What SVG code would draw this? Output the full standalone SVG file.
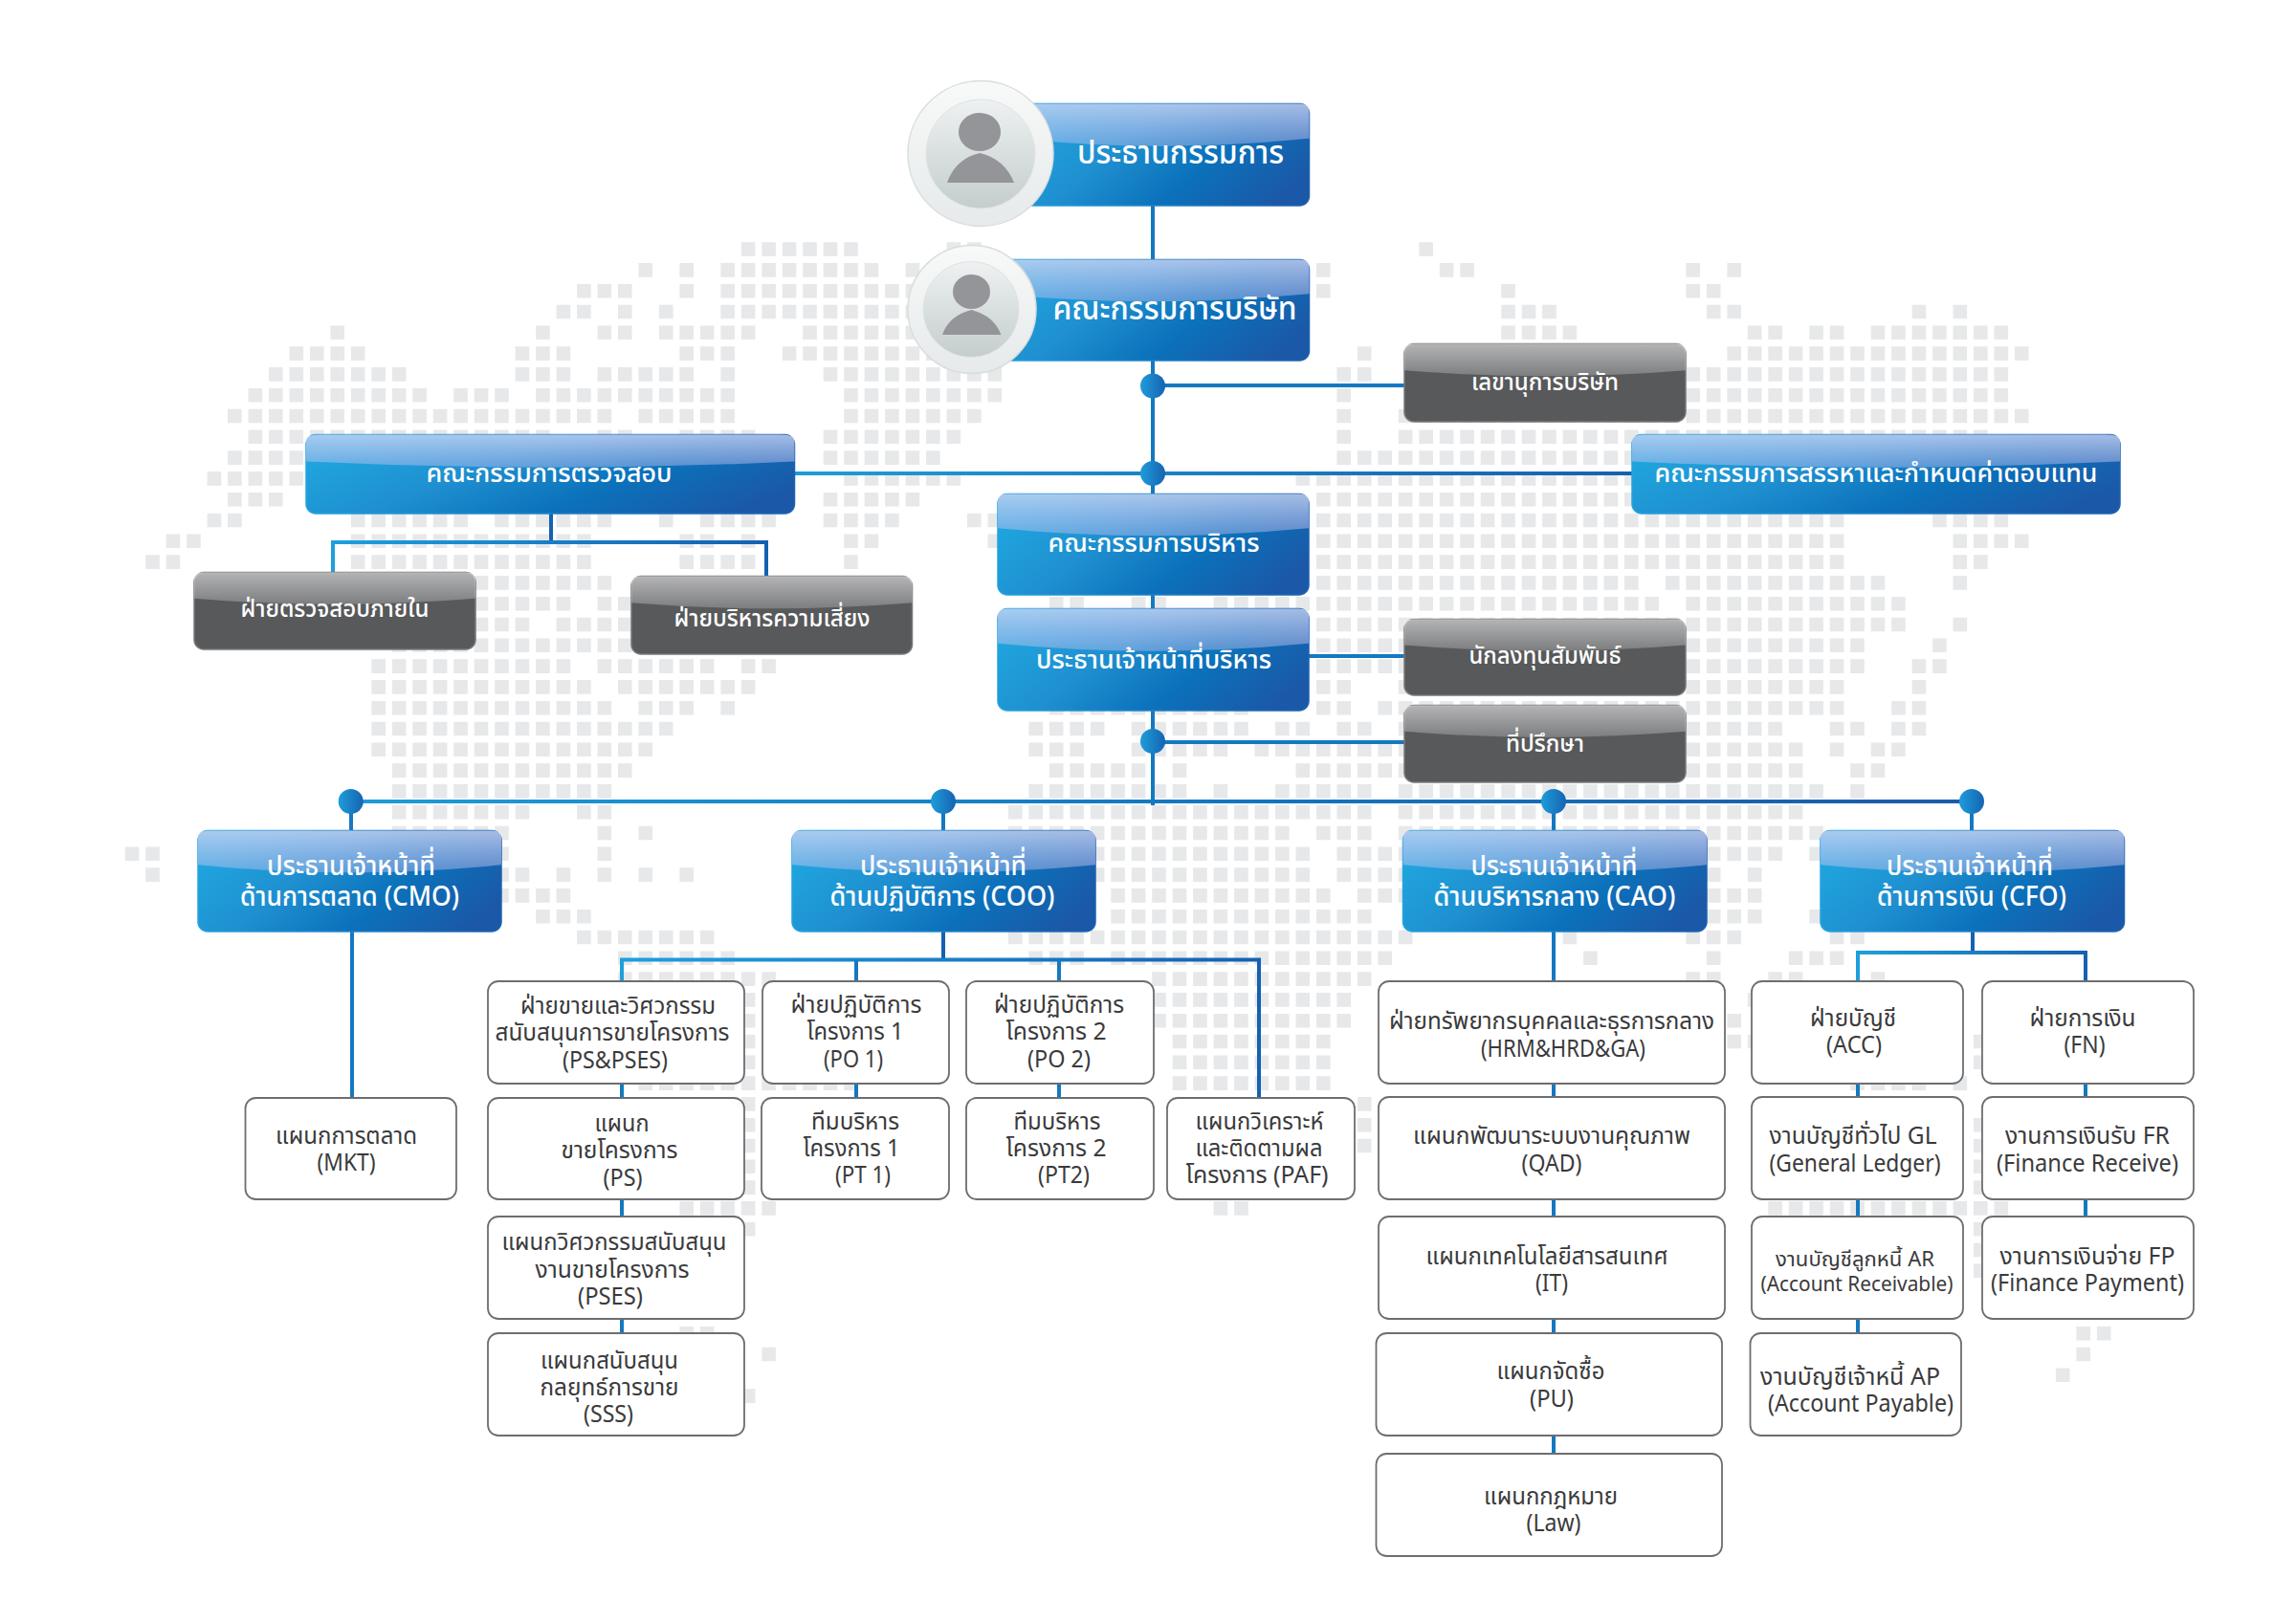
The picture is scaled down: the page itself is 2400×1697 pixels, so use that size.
<svg xmlns="http://www.w3.org/2000/svg" width="2400" height="1697" viewBox="0 0 2400 1697">
<style>
text{font-family:"Noto Sans Thai","Noto Sans","Liberation Sans",sans-serif;text-anchor:middle}
.w{fill:#fff;font-size:29px;font-weight:500;transform:translateY(2px)}
.d{fill:#3a3a3c;font-size:25px;font-weight:400;transform:translateY(1.5px)}
.blue{fill:url(#bg);stroke:url(#bs);stroke-width:1.5}
.grey{fill:#58595b;stroke:#77787b;stroke-width:1.5}
.box{fill:#fff;stroke:#6d6e71;stroke-width:1.8}
.cn{fill:none;stroke:#1479c1;stroke-width:4}
.j{fill:url(#jg)}
</style>
<defs>
<linearGradient id="bg" x1="0" y1="0.3" x2="1" y2="0.7"><stop offset="0" stop-color="#1fa6df"/><stop offset=".35" stop-color="#1f8fd0"/><stop offset=".65" stop-color="#0b72bb"/><stop offset="1" stop-color="#1b58a7"/></linearGradient>
<linearGradient id="bs" x1="0" y1="0" x2="1" y2="0"><stop offset="0" stop-color="#22a3de"/><stop offset="1" stop-color="#1b62b0"/></linearGradient>
<linearGradient id="gl" x1="0" y1="0" x2="0" y2="1"><stop offset="0" stop-color="#d8d8f5" stop-opacity=".75"/><stop offset="1" stop-color="#c0c0f0" stop-opacity=".42"/></linearGradient>
<linearGradient id="gg" x1="0" y1="0" x2="0" y2="1"><stop offset="0" stop-color="#fff" stop-opacity=".55"/><stop offset="1" stop-color="#fff" stop-opacity=".22"/></linearGradient>
<linearGradient id="jg" x1="0" y1="0" x2="1" y2="0"><stop offset="0" stop-color="#1e9cd9"/><stop offset="1" stop-color="#1664b2"/></linearGradient>
<linearGradient id="br" x1="0" y1="0" x2="1" y2="0"><stop offset="0" stop-color="#1e9fdb"/><stop offset="1" stop-color="#1561b1"/></linearGradient>
<linearGradient id="h1" gradientUnits="userSpaceOnUse" x1="367" y1="0" x2="2061" y2="0"><stop offset="0" stop-color="#1e9cd9"/><stop offset=".5" stop-color="#1479c1"/><stop offset="1" stop-color="#1a5cab"/></linearGradient>
<linearGradient id="h2" gradientUnits="userSpaceOnUse" x1="831" y1="0" x2="1706" y2="0"><stop offset="0" stop-color="#1e9cd9"/><stop offset="1" stop-color="#1661b0"/></linearGradient>
<linearGradient id="c1" x1="0" y1="0" x2="0" y2="1"><stop offset="0" stop-color="#f8f9f9"/><stop offset="1" stop-color="#e6eaea"/></linearGradient>
<linearGradient id="c2" x1="0" y1="0" x2="0" y2="1"><stop offset="0" stop-color="#eef1f1"/><stop offset="1" stop-color="#c4cdcd"/></linearGradient>
<path id="gloss" d="M0 .34V.07Q0 0 .03 0H.97Q1 0 1 .07V.34Q.5 .49 0 .34Z"/>
</defs>
<rect width="2400" height="1697" fill="#fff"/>
<g id="map" transform="translate(152.2 260.6) scale(21.47 21.8)" fill="none" stroke="#e7e8ea" stroke-width=".67" stroke-dasharray=".68 .32">
<path d="M29 0H34.68M39 0H40.68M62 0H62.68
M24 1H24.68M26 1H26.68M28 1H35.68M37 1H38.68M57 1H57.68M63 1H64.68M75 1H75.68M77 1H77.68
M21 2H23.68M26 2H26.68M28 2H37.68M57 2H57.68M66 2H66.68M75 2H76.68
M20 3H21.68M23 3H23.68M25 3H25.68M28 3H37.68M66 3H68.68M76 3H77.68M86 3H86.68M88 3H88.68
M9 4H9.68M19 4H19.68M22 4H23.68M25 4H29.68M32 4H37.68M66 4H69.68M78 4H79.68M81 4H82.68M84 4H90.68
M7 5H10.68M18 5H20.68M26 5H28.68M31 5H38.68M59 5H59.68M77 5H91.68
M6 6H12.68M18 6H20.68M22 6H26.68M28 6H28.68M33 6H41.68M58 6H59.68M62 6H90.68
M5 7H13.68M15 7H17.68M19 7H28.68M34 7H41.68M58 7H58.68M62 7H90.68
M4 8H22.68M24 8H28.68M34 8H40.68M58 8H58.68M61 8H91.68
M5 9H19.68M22 9H23.68M26 9H29.68M33 9H39.68M58 9H58.68M61 9H89.68
M4 10H19.68M33 10H38.68M58 10H72.68
M3 11H7.68M34 11H39.68M56 11H72.68
M4 12H6.68M33 12H37.68M57 12H72.68
M3 13H4.68M10 13H15.68M17 13H22.68M25 13H25.68M27 13H30.68M33 13H36.68M40 13H41.68M57 13H82.68M87 13H90.68
M1 14H2.68M10 14H21.68M26 14H27.68M29 14H29.68M34 14H35.68M41 14H41.68M57 14H82.68M88 14H91.68
M0 15H1.68M10 15H21.68M26 15H29.68M34 15H34.68M57 15H82.68M88 15H89.68
M16 16H22.68M57 16H72.68M74 16H84.68M88 16H88.68
M16 17H20.68M22 17H23.68M44 17H45.68M48 17H49.68M52 17H73.68M75 17H85.68
M16 18H18.68M20 18H23.68M57 18H85.68M88 18H88.68
M12 19H23.68M57 19H83.68M87 19H87.68
M11 20H20.68M22 20H27.68M29 20H30.68M57 20H83.68M86 20H87.68
M11 21H21.68M23 21H29.68M57 21H58.68M61 21H82.68M86 21H86.68
M11 22H22.68M24 22H26.68M28 22H28.68M44 22H53.68M57 22H58.68M60 22H82.68M85 22H86.68
M11 23H25.68M43 23H46.68M48 23H53.68M55 23H56.68M58 23H59.68M61 23H79.68M82 23H83.68M85 23H86.68
M11 24H24.68M43 24H45.68M48 24H52.68M54 24H80.68M82 24H82.68M84 24H85.68
M12 25H23.68M44 25H48.68M50 25H50.68M56 25H80.68M83 25H84.68
M12 26H22.68M43 26H50.68M52 26H52.68M55 26H59.68M61 26H81.68M83 26H83.68
M12 27H18.68M21 27H22.68M42 27H59.68M61 27H80.68
M12 28H17.68M22 28H22.68M24 28H24.68M42 28H55.68M57 28H59.68M61 28H81.68
M-1 29H0.68M12 29H17.68M22 29H22.68M46 29H56.68M58 29H61.68M76 29H79.68M81 29H81.68
M0 30H0.68M17 30H18.68M20 30H20.68M22 30H22.68M24 30H24.68M26 30H26.68M46 30H56.68M58 30H61.68M76 30H76.68M78 30H78.68
M17 31H20.68M47 31H57.68M59 31H61.68M76 31H78.68
M19 32H21.68M47 32H59.68M76 32H78.68M81 32H81.68
M21 33H27.68M42 33H61.68M69 33H69.68M75 33H77.68M82 33H83.68
M23 34H28.68M43 34H45.68M47 34H60.68M70 34H70.68M76 34H76.68M80 34H82.68
M23 35H30.68M49 35H59.68M75 35H76.68M79 35H80.68M84 35H84.68
M29 36H29.68M49 36H58.68M78 36H78.68
M29 37H29.68M49 37H58.68M77 37H77.68
M29 38H29.68M50 38H57.68M77 38H78.68M89 38H89.68
M29 39H29.68M50 39H57.68M89 39H89.68
M24 40H34.68M50 40H57.68M83 40H86.68M88 40H88.68
M29 41H29.68M59 41H59.68
M29 42H29.68M59 42H59.68M89 42H89.68
M29 43H29.68M59 43H59.68M89 43H89.68
M29 44H29.68M89 44H89.68
M29 45H29.68M89 45H89.68
M26 46H30.68M52 46H53.68M79 46H90.68
M29 47H29.68M89 47H89.68
M89 48H89.68
M89 49H89.68
M26 52H27.68M94 52H95.68
M30 53H30.68M94 53H94.68
M93 54H93.68
M29 55H29.68"/>
</g>
<g id="connectors">
<path class="cn" d="M1205 215V271M1205 377V516M1205 622V636M1205 743V842"/>
<path class="cn" d="M1205 403H1468"/>
<path class="cn" style="stroke:url(#h2)" d="M831 495H1706"/>
<path class="cn" d="M1368 686H1468M1205 776H1468"/>
<path class="cn" style="stroke:url(#h1)" d="M367 838H2061"/>
<path class="cn" d="M367 838V868M986 838V868M1624 838V868M2061 838V868"/>
<path class="cn" style="stroke:#1562b0" d="M576 537V567"/>
<path class="cn" style="stroke:url(#br)" d="M348 598V567H801V602"/>
<path class="cn" d="M368 974V1148"/>
<path class="cn" style="stroke:#1562b0" d="M986 974V1003"/>
<path class="cn" style="stroke:url(#br)" d="M650 1026V1003.5H1316V1148"/>
<path class="cn" d="M895 1003.5V1026M1107 1003.5V1026"/>
<path class="cn" d="M650 1133V1148M650 1254V1272M650 1379V1394M895 1133V1148M1107 1133V1148"/>
<path class="cn" d="M1624 974V1026M1624 1133V1147M1624 1254V1272M1624 1379V1394M1624 1501V1520"/>
<path class="cn" style="stroke:#1562b0" d="M2062 974V996"/>
<path class="cn" style="stroke:url(#br)" d="M1942 1026V996H2180V1026"/>
<path class="cn" d="M1942 1133V1147M1942 1254V1272M1942 1379V1394M2180 1133V1147M2180 1254V1272"/>
<ellipse class="j" cx="1205" cy="403.5" rx="13" ry="13"/>
<ellipse class="j" cx="1205" cy="495" rx="13" ry="13"/>
<ellipse class="j" cx="1205" cy="775" rx="13" ry="13"/>
<ellipse class="j" cx="366.7" cy="838" rx="13" ry="13"/>
<ellipse class="j" cx="986" cy="838" rx="13" ry="13"/>
<ellipse class="j" cx="1624" cy="838" rx="13" ry="13"/>
<ellipse class="j" cx="2061" cy="838" rx="13" ry="13"/>
</g>
<g id="chairman">
<rect class="blue" x="1060" y="108.5" width="308.5" height="106.5" rx="10"/>
<use href="#gloss" fill="url(#gl)" transform="translate(1060 108.5) scale(308.5 106.5)"/>
<circle cx="1025" cy="160.5" r="76" fill="url(#c1)" stroke="#d9dddd" stroke-width="1.5"/>
<circle cx="1025" cy="161" r="57" fill="url(#c2)" stroke="#dfe3e3"/>
<ellipse cx="1024" cy="138" rx="22" ry="20" fill="#939598"/>
<path d="M990 191Q999 166 1024 160Q1050 166 1060 191Z" fill="#939598"/>
<text class="w" x="1234" y="169" style="font-size:33px" textLength="216" lengthAdjust="spacingAndGlyphs">ประธานกรรมการ</text>
</g>
<g id="board">
<rect class="blue" x="1040" y="271.5" width="328.5" height="105.5" rx="10"/>
<use href="#gloss" fill="url(#gl)" transform="translate(1040 271.5) scale(328.5 105.5)"/>
<circle cx="1016" cy="323.5" r="67" fill="url(#c1)" stroke="#d9dddd" stroke-width="1.5"/>
<circle cx="1015" cy="323.5" r="50" fill="url(#c2)" stroke="#dfe3e3"/>
<ellipse cx="1015.5" cy="305" rx="19.5" ry="18" fill="#939598"/>
<path d="M985 350Q992 330 1015.5 324Q1039 330 1046.5 350Z" fill="#939598"/>
<text class="w" x="1228" y="332" style="font-size:33px" textLength="255" lengthAdjust="spacingAndGlyphs">คณะกรรมการบริษัท</text>
</g>
<g id="secretary">
<rect class="grey" x="1468" y="359.5" width="294" height="81.5" rx="10"/>
<use href="#gloss" fill="url(#gg)" transform="translate(1468 359.5) scale(294 81.5)"/>
<text class="w" x="1615" y="406" style="font-size:25px" textLength="154" lengthAdjust="spacingAndGlyphs">เลขานุการบริษัท</text>
</g>
<g id="audit-committee">
<rect class="blue" x="320" y="454.5" width="510.5" height="82.5" rx="10"/>
<use href="#gloss" fill="url(#gl)" transform="translate(320 454.5) scale(510.5 82.5)"/>
<text class="w" x="574" y="502" style="font-size:26px" textLength="257" lengthAdjust="spacingAndGlyphs">คณะกรรมการตรวจสอบ</text>
</g>
<g id="nomination-committee">
<rect class="blue" x="1706" y="454.5" width="510" height="82.5" rx="10"/>
<use href="#gloss" fill="url(#gl)" transform="translate(1706 454.5) scale(510 82.5)"/>
<text class="w" x="1961" y="502" style="font-size:26px" textLength="463" lengthAdjust="spacingAndGlyphs">คณะกรรมการสรรหาและกำหนดค่าตอบแทน</text>
</g>
<g id="internal-audit">
<rect class="grey" x="203" y="598.5" width="294" height="80.5" rx="10"/>
<use href="#gloss" fill="url(#gg)" transform="translate(203 598.5) scale(294 80.5)"/>
<text class="w" x="350" y="643" style="font-size:25px" textLength="197" lengthAdjust="spacingAndGlyphs">ฝ่ายตรวจสอบภายใน</text>
</g>
<g id="risk">
<rect class="grey" x="660" y="602.5" width="293.5" height="81.5" rx="10"/>
<use href="#gloss" fill="url(#gg)" transform="translate(660 602.5) scale(293.5 81.5)"/>
<text class="w" x="807" y="653" style="font-size:25px" textLength="205" lengthAdjust="spacingAndGlyphs">ฝ่ายบริหารความเสี่ยง</text>
</g>
<g id="executive-committee">
<rect class="blue" x="1043" y="516.5" width="325" height="105.5" rx="10"/>
<use href="#gloss" fill="url(#gl)" transform="translate(1043 516.5) scale(325 105.5)"/>
<text class="w" x="1206" y="575" style="font-size:27px" textLength="221" lengthAdjust="spacingAndGlyphs">คณะกรรมการบริหาร</text>
</g>
<g id="ceo">
<rect class="blue" x="1043" y="636.5" width="325" height="106.5" rx="10"/>
<use href="#gloss" fill="url(#gl)" transform="translate(1043 636.5) scale(325 106.5)"/>
<text class="w" x="1206" y="697" style="font-size:27px" textLength="246" lengthAdjust="spacingAndGlyphs">ประธานเจ้าหน้าที่บริหาร</text>
</g>
<g id="investor-relations">
<rect class="grey" x="1468" y="647.5" width="294" height="79.5" rx="10"/>
<use href="#gloss" fill="url(#gg)" transform="translate(1468 647.5) scale(294 79.5)"/>
<text class="w" x="1615" y="692" style="font-size:25px" textLength="159" lengthAdjust="spacingAndGlyphs">นักลงทุนสัมพันธ์</text>
</g>
<g id="advisor">
<rect class="grey" x="1468" y="737.5" width="294" height="80.5" rx="10"/>
<use href="#gloss" fill="url(#gg)" transform="translate(1468 737.5) scale(294 80.5)"/>
<text class="w" x="1615" y="784" style="font-size:25px" textLength="82" lengthAdjust="spacingAndGlyphs">ที่ปรึกษา</text>
</g>
<g id="cmo">
<rect class="blue" x="207" y="868.5" width="317" height="105.5" rx="10"/>
<use href="#gloss" fill="url(#gl)" transform="translate(207 868.5) scale(317 105.5)"/>
<text class="w" x="367" y="913" textLength="176" lengthAdjust="spacingAndGlyphs">ประธานเจ้าหน้าที่</text>
<text class="w" x="365.5" y="945" textLength="229" lengthAdjust="spacingAndGlyphs">ด้านการตลาด (CMO)</text>
</g>
<g id="coo">
<rect class="blue" x="828" y="868.5" width="317" height="105.5" rx="10"/>
<use href="#gloss" fill="url(#gl)" transform="translate(828 868.5) scale(317 105.5)"/>
<text class="w" x="986" y="913" textLength="174" lengthAdjust="spacingAndGlyphs">ประธานเจ้าหน้าที่</text>
<text class="w" x="985" y="945" textLength="235" lengthAdjust="spacingAndGlyphs">ด้านปฏิบัติการ (COO)</text>
</g>
<g id="cao">
<rect class="blue" x="1466.5" y="868.5" width="317.5" height="105.5" rx="10"/>
<use href="#gloss" fill="url(#gl)" transform="translate(1466.5 868.5) scale(317.5 105.5)"/>
<text class="w" x="1624.5" y="913" textLength="174" lengthAdjust="spacingAndGlyphs">ประธานเจ้าหน้าที่</text>
<text class="w" x="1625" y="945" textLength="253" lengthAdjust="spacingAndGlyphs">ด้านบริหารกลาง (CAO)</text>
</g>
<g id="cfo">
<rect class="blue" x="1903" y="868.5" width="317.5" height="105.5" rx="10"/>
<use href="#gloss" fill="url(#gl)" transform="translate(1903 868.5) scale(317.5 105.5)"/>
<text class="w" x="2059" y="913" textLength="174" lengthAdjust="spacingAndGlyphs">ประธานเจ้าหน้าที่</text>
<text class="w" x="2061" y="945" textLength="198" lengthAdjust="spacingAndGlyphs">ด้านการเงิน (CFO)</text>
</g>
<g id="mkt"><rect class="box" x="256.5" y="1148" width="220.5" height="106" rx="11"/>
<text class="d" x="362" y="1194" textLength="148" lengthAdjust="spacingAndGlyphs">แผนกการตลาด</text>
<text class="d" x="362" y="1222" textLength="61" lengthAdjust="spacingAndGlyphs">(MKT)</text></g>
<g id="ps-pses"><rect class="box" x="510" y="1026" width="268" height="107" rx="11"/>
<text class="d" x="646" y="1058" textLength="204" lengthAdjust="spacingAndGlyphs">ฝ่ายขายและวิศวกรรม</text>
<text class="d" x="640" y="1086.5" textLength="245" lengthAdjust="spacingAndGlyphs">สนับสนุนการขายโครงการ</text>
<text class="d" x="643" y="1115" textLength="110" lengthAdjust="spacingAndGlyphs">(PS&amp;PSES)</text></g>
<g id="ps"><rect class="box" x="510" y="1148" width="268" height="106" rx="11"/>
<text class="d" x="650" y="1181" textLength="57" lengthAdjust="spacingAndGlyphs">แผนก</text>
<text class="d" x="647.5" y="1209" textLength="122" lengthAdjust="spacingAndGlyphs">ขายโครงการ</text>
<text class="d" x="651" y="1238" textLength="41" lengthAdjust="spacingAndGlyphs">(PS)</text></g>
<g id="pses"><rect class="box" x="510" y="1272" width="268" height="107" rx="11"/>
<text class="d" x="642" y="1305" textLength="235" lengthAdjust="spacingAndGlyphs">แผนกวิศวกรรมสนับสนุน</text>
<text class="d" x="640" y="1334" textLength="161" lengthAdjust="spacingAndGlyphs">งานขายโครงการ</text>
<text class="d" x="638" y="1362" textLength="68" lengthAdjust="spacingAndGlyphs">(PSES)</text></g>
<g id="sss"><rect class="box" x="510" y="1394" width="268" height="107" rx="11"/>
<text class="d" x="637" y="1429" textLength="144" lengthAdjust="spacingAndGlyphs">แผนกสนับสนุน</text>
<text class="d" x="637" y="1457" textLength="145" lengthAdjust="spacingAndGlyphs">กลยุทธ์การขาย</text>
<text class="d" x="636" y="1485" textLength="52" lengthAdjust="spacingAndGlyphs">(SSS)</text></g>
<g id="po1"><rect class="box" x="797" y="1026" width="195" height="107" rx="11"/>
<text class="d" x="895" y="1057" textLength="137" lengthAdjust="spacingAndGlyphs">ฝ่ายปฏิบัติการ</text>
<text class="d" x="894" y="1085" textLength="101" lengthAdjust="spacingAndGlyphs">โครงการ 1</text>
<text class="d" x="892" y="1114" textLength="62" lengthAdjust="spacingAndGlyphs">(PO 1)</text></g>
<g id="po2"><rect class="box" x="1010" y="1026" width="196" height="107" rx="11"/>
<text class="d" x="1107" y="1057" textLength="136" lengthAdjust="spacingAndGlyphs">ฝ่ายปฏิบัติการ</text>
<text class="d" x="1104" y="1085" textLength="105" lengthAdjust="spacingAndGlyphs">โครงการ 2</text>
<text class="d" x="1107" y="1114" textLength="66" lengthAdjust="spacingAndGlyphs">(PO 2)</text></g>
<g id="pt1"><rect class="box" x="796" y="1148" width="196" height="106" rx="11"/>
<text class="d" x="894" y="1179" textLength="92" lengthAdjust="spacingAndGlyphs">ทีมบริหาร</text>
<text class="d" x="890" y="1207" textLength="101" lengthAdjust="spacingAndGlyphs">โครงการ 1</text>
<text class="d" x="902" y="1235" textLength="58" lengthAdjust="spacingAndGlyphs">(PT 1)</text></g>
<g id="pt2"><rect class="box" x="1010" y="1148" width="196" height="106" rx="11"/>
<text class="d" x="1105" y="1179" textLength="91" lengthAdjust="spacingAndGlyphs">ทีมบริหาร</text>
<text class="d" x="1104" y="1207" textLength="105" lengthAdjust="spacingAndGlyphs">โครงการ 2</text>
<text class="d" x="1112" y="1235" textLength="54" lengthAdjust="spacingAndGlyphs">(PT2)</text></g>
<g id="paf"><rect class="box" x="1220" y="1148" width="196" height="106" rx="11"/>
<text class="d" x="1316.5" y="1179" textLength="134" lengthAdjust="spacingAndGlyphs">แผนกวิเคราะห์</text>
<text class="d" x="1316" y="1207" textLength="133" lengthAdjust="spacingAndGlyphs">และติดตามผล</text>
<text class="d" x="1314" y="1235" textLength="149" lengthAdjust="spacingAndGlyphs">โครงการ (PAF)</text></g>
<g id="hrm"><rect class="box" x="1441" y="1026" width="362" height="107" rx="11"/>
<text class="d" x="1622" y="1074" textLength="340" lengthAdjust="spacingAndGlyphs">ฝ่ายทรัพยากรบุคคลและธุรการกลาง</text>
<text class="d" x="1634" y="1103" textLength="172" lengthAdjust="spacingAndGlyphs">(HRM&amp;HRD&amp;GA)</text></g>
<g id="qad"><rect class="box" x="1441" y="1147" width="362" height="107" rx="11"/>
<text class="d" x="1622" y="1194" textLength="290" lengthAdjust="spacingAndGlyphs">แผนกพัฒนาระบบงานคุณภาพ</text>
<text class="d" x="1622" y="1223" textLength="63" lengthAdjust="spacingAndGlyphs">(QAD)</text></g>
<g id="it"><rect class="box" x="1441" y="1272" width="362" height="107" rx="11"/>
<text class="d" x="1617" y="1320" textLength="253" lengthAdjust="spacingAndGlyphs">แผนกเทคโนโลยีสารสนเทศ</text>
<text class="d" x="1622" y="1348" textLength="34" lengthAdjust="spacingAndGlyphs">(IT)</text></g>
<g id="pu"><rect class="box" x="1438.5" y="1394" width="361.5" height="107" rx="11"/>
<text class="d" x="1621" y="1440" textLength="113" lengthAdjust="spacingAndGlyphs">แผนกจัดซื้อ</text>
<text class="d" x="1622" y="1469" textLength="46" lengthAdjust="spacingAndGlyphs">(PU)</text></g>
<g id="law"><rect class="box" x="1438.5" y="1520" width="361.5" height="107" rx="11"/>
<text class="d" x="1621" y="1571" textLength="140" lengthAdjust="spacingAndGlyphs">แผนกกฎหมาย</text>
<text class="d" x="1624" y="1599" textLength="57" lengthAdjust="spacingAndGlyphs">(Law)</text></g>
<g id="acc"><rect class="box" x="1831" y="1026" width="221" height="107" rx="11"/>
<text class="d" x="1937" y="1071" textLength="90" lengthAdjust="spacingAndGlyphs">ฝ่ายบัญชี</text>
<text class="d" x="1938" y="1099" textLength="58" lengthAdjust="spacingAndGlyphs">(ACC)</text></g>
<g id="fn"><rect class="box" x="2072" y="1026" width="221" height="107" rx="11"/>
<text class="d" x="2177" y="1071" textLength="111" lengthAdjust="spacingAndGlyphs">ฝ่ายการเงิน</text>
<text class="d" x="2179" y="1099" textLength="43" lengthAdjust="spacingAndGlyphs">(FN)</text></g>
<g id="gl-node"><rect class="box" x="1831" y="1147" width="221" height="107" rx="11"/>
<text class="d" x="1937" y="1194" textLength="175" lengthAdjust="spacingAndGlyphs">งานบัญชีทั่วไป GL</text>
<text class="d" x="1939" y="1223" textLength="179" lengthAdjust="spacingAndGlyphs">(General Ledger)</text></g>
<g id="fr"><rect class="box" x="2072" y="1147" width="221" height="107" rx="11"/>
<text class="d" x="2182" y="1194" textLength="172" lengthAdjust="spacingAndGlyphs">งานการเงินรับ FR</text>
<text class="d" x="2182" y="1223" textLength="190" lengthAdjust="spacingAndGlyphs">(Finance Receive)</text></g>
<g id="ar"><rect class="box" x="1831" y="1272" width="221" height="107" rx="11"/>
<text class="d" x="1939" y="1322" style="font-size:21px" textLength="166" lengthAdjust="spacingAndGlyphs">งานบัญชีลูกหนี้ AR</text>
<text class="d" x="1941" y="1348" style="font-size:21px" textLength="201" lengthAdjust="spacingAndGlyphs">(Account Receivable)</text></g>
<g id="fp"><rect class="box" x="2072" y="1272" width="221" height="107" rx="11"/>
<text class="d" x="2182" y="1320" textLength="183" lengthAdjust="spacingAndGlyphs">งานการเงินจ่าย FP</text>
<text class="d" x="2182" y="1348" textLength="202" lengthAdjust="spacingAndGlyphs">(Finance Payment)</text></g>
<g id="ap"><rect class="box" x="1829.5" y="1394" width="220.5" height="107" rx="11"/>
<text class="d" x="1934" y="1446" textLength="188" lengthAdjust="spacingAndGlyphs">งานบัญชีเจ้าหนี้ AP</text>
<text class="d" x="1945" y="1474" textLength="194" lengthAdjust="spacingAndGlyphs">(Account Payable)</text></g>
</svg>
